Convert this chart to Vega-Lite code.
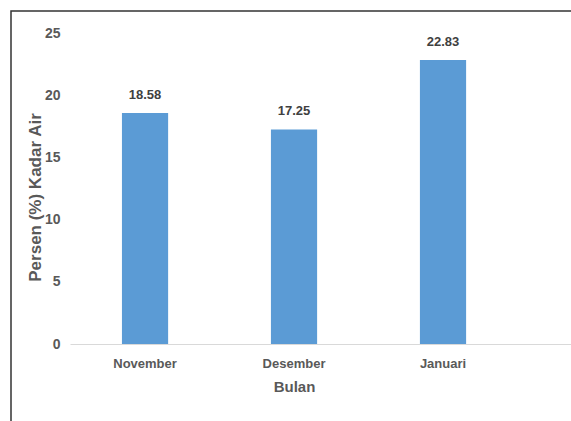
{
  "$schema": "https://vega.github.io/schema/vega-lite/v6.json",
  "width": 569,
  "height": 419,
  "autosize": {"type": "none"},
  "padding": {"left": 11, "top": 11, "right": 0, "bottom": 0},
  "background": "white",
  "config": {
    "view": {"stroke": "#333333", "strokeWidth": 1.5},
    "font": "Liberation Sans"
  },
  "data": {
    "values": [
      {"Bulan": "November", "Kadar": 18.58},
      {"Bulan": "Desember", "Kadar": 17.25},
      {"Bulan": "Januari", "Kadar": 22.83}
    ]
  },
  "encoding": {
    "x": {
      "field": "Bulan",
      "type": "nominal",
      "sort": null,
      "scale": {"range": [59, 590], "paddingInner": 0.69, "paddingOuter": 0.627, "align": 0.278},
      "axis": {
        "orient": "bottom",
        "offset": -86,
        "title": "Bulan",
        "labelAngle": 0,
        "ticks": false,
        "domainColor": "#d9d9d9",
        "domainWidth": 1,
        "labelPadding": 13,
        "labelFont": "Liberation Sans",
        "labelFontSize": 13,
        "labelFontWeight": "bold",
        "labelColor": "#595959",
        "titleFont": "Liberation Sans",
        "titleFontSize": 15,
        "titleFontWeight": "bold",
        "titleColor": "#595959",
        "titlePadding": 9,
        "titleX": 283
      }
    },
    "y": {
      "field": "Kadar",
      "type": "quantitative",
      "scale": {"domain": [-6.91, 26.77], "nice": false, "zero": false},
      "axis": {
        "orient": "left",
        "offset": -49,
        "values": [0, 5, 10, 15, 20, 25],
        "title": "Persen (%) Kadar Air",
        "grid": false,
        "domain": false,
        "ticks": false,
        "labelPadding": 0,
        "labelFont": "Liberation Sans",
        "labelFontSize": 14,
        "labelFontWeight": "bold",
        "labelColor": "#595959",
        "titleFont": "Liberation Sans",
        "titleFontSize": 17,
        "titleFontWeight": "bold",
        "titleColor": "#595959",
        "titlePadding": 0,
        "titleY": 186,
        "titleLimit": 400
      }
    }
  },
  "layer": [
    {
      "mark": {"type": "bar", "color": "#5B9BD5", "clip": false},
      "encoding": {"y2": {"datum": 0}}
    },
    {
      "mark": {
        "type": "text",
        "dy": -11,
        "baseline": "bottom",
        "font": "Liberation Sans",
        "fontSize": 13,
        "fontWeight": "bold",
        "color": "#404040"
      },
      "encoding": {"text": {"field": "Kadar", "type": "quantitative", "format": ".2f"}}
    }
  ]
}
